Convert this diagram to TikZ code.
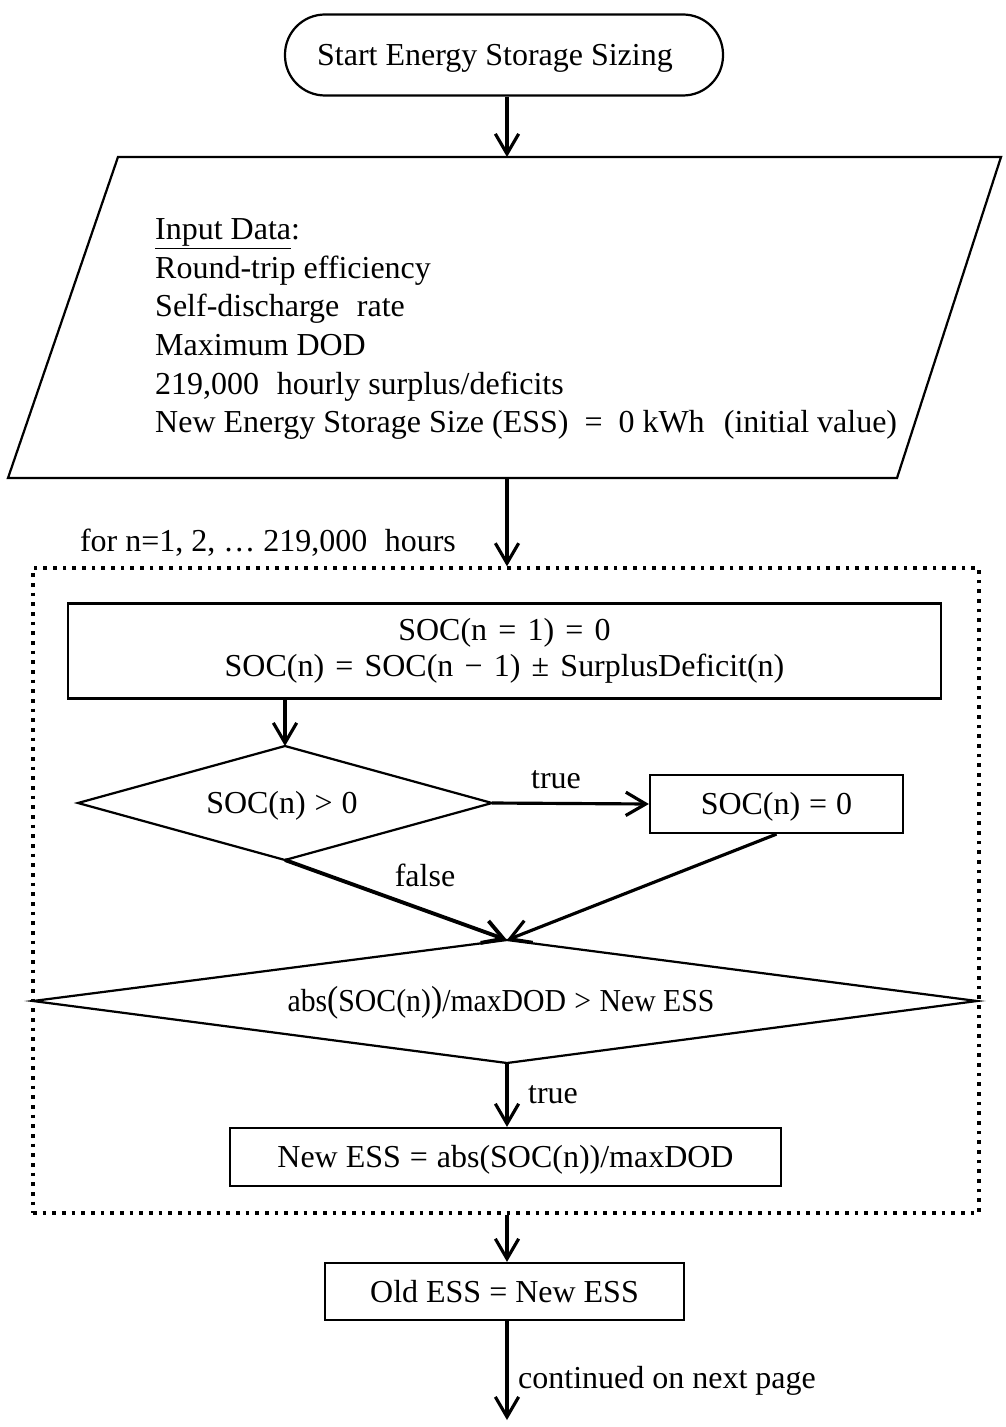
\documentclass[tikz,border=0pt]{standalone}
\usepackage{fontspec}
\usepackage{graphicx}
\setmainfont{Liberation Serif}
\usetikzlibrary{arrows.meta}
\newcommand{\sprel}[1]{\hspace{0.28em}#1\hspace{0.28em}}
\newcommand{\wrel}[1]{\hspace{0.35em}#1\hspace{0.35em}}
\begin{document}
\begin{tikzpicture}[x=0.3mm,y=-0.3mm,
  every node/.style={font=\fontsize{27.3pt}{32.6pt}\selectfont, inner sep=0pt},
  oneline/.style={text height=24.6pt, text depth=6.4pt},
  box/.style={draw, line width=1.9pt, rectangle, align=center},
  shapeline/.style={line width=1.9pt, line join=miter},
  arr/.style={line width=2.7pt, -{Straight Barb[length=6mm,width=7mm]}},
  loopbox/.style={draw, line width=1.0mm, dash pattern=on 1.1mm off 1.8mm, rectangle}
  ]
\useasboundingbox (0,0) rectangle (1005,1427);

% start terminal
\node[box, oneline, rounded corners=12mm, minimum width=131.4mm, minimum height=24.3mm] (start) at (504,55) {Start Energy Storage Sizing\hspace{5.4mm}};

% input parallelogram
\coordinate (inpTL) at (118,157);
\coordinate (inpTR) at (1001,157);
\coordinate (inpBR) at (897,478);
\coordinate (inpBL) at (8,478);
\draw[shapeline] (inpTL) -- (inpTR) -- (inpBR) -- (inpBL) -- cycle;
\coordinate (inpTop) at (507,157);
\coordinate (inpBot) at (507,478);
\node[anchor=west, align=left, font=\fontsize{27.3pt}{33pt}\selectfont] (inp) at (155,329) {\underline{Input Data}:\\
Round-trip efficiency\\
Self-discharge\hspace{0.3em} rate\\
Maximum DOD\\
219,000\hspace{0.3em} hourly surplus/deficits\\
New Energy Storage Size (ESS)\hspace{0.5em}=\hspace{0.5em}0 kWh\hspace{0.35em} (initial value)};

% loop box
\node[loopbox, minimum width=283.8mm, minimum height=193.5mm] (loop) at (506,890.5) {};
\node[oneline] (forlbl) at (268,541) {for n=1, 2, \dots\ 219,000\hspace{0.3em} hours};

% init box
\node[box, minimum width=261.9mm, minimum height=28.5mm, font=\fontsize{27.3pt}{31pt}\selectfont] (init) at (504.5,651)
  {SOC(n\wrel{=}1)\wrel{=}0\\ SOC(n)\wrel{=}SOC(n\wrel{−}1)\wrel{±}SurplusDeficit(n)};

% decision 1
\coordinate (d1N) at (285,746);
\coordinate (d1E) at (492,803);
\coordinate (d1S) at (285,860);
\coordinate (d1W) at (78,803);
\draw[shapeline] (d1N) -- (d1E) -- (d1S) -- (d1W) -- cycle;
\node[oneline] (d1) at (282,803) {SOC(n)\sprel{>}0};

% zero box
\node[box, oneline, minimum width=75.9mm, minimum height=17.4mm] (zero) at (776.5,804) {SOC(n)\sprel{=}0};

% decision 2
\coordinate (d2N) at (507,940);
\coordinate (d2E) at (977,1001);
\coordinate (d2S) at (507,1063);
\coordinate (d2W) at (33,1001);
\draw[shapeline] (d2N) -- (d2E) -- (d2S) -- (d2W) -- cycle;
\node[oneline] (d2) at (501,1001)
  {\scalebox{0.93}[1]{abs{\fontsize{31pt}{31pt}\selectfont(}SOC(n){\fontsize{31pt}{31pt}\selectfont)}/maxDOD\sprel{>}New ESS}};

% update box
\node[box, oneline, minimum width=165.3mm, minimum height=17.4mm] (upd) at (505.5,1157) {New ESS\sprel{=}abs(SOC(n))/maxDOD};

% old box
\node[box, oneline, minimum width=107.7mm, minimum height=17.1mm] (old) at (504.5,1291.5) {Old ESS = New ESS};
\coordinate (cont) at (507,1420);

% connectors
\draw[arr] (start.south -| inpTop) -- (inpTop);
\draw[arr] (inpBot) -- (inpBot |- loop.north);
\draw[arr] (init.south -| d1N) -- (d1N);
\draw[arr] (d1E) -- (zero.west);
\node[oneline] (truelbl1) at (556,778) {true};
\draw[arr, line width=3.3pt] (d1S) -- (d2N);
\node[oneline] (falselbl) at (425,876) {false};
\draw[arr] (zero.south) -- (d2N);
\draw[arr] (d2S) -- (upd.north -| d2S);
\node[oneline] (truelbl2) at (553,1093) {true};
\draw[arr] (loop.south -| cont) -- (old.north -| cont);
\draw[arr] (old.south -| cont) -- (cont);
\node[oneline, anchor=west] (contlbl) at (518,1378) {continued on next page};
\end{tikzpicture}
\end{document}
